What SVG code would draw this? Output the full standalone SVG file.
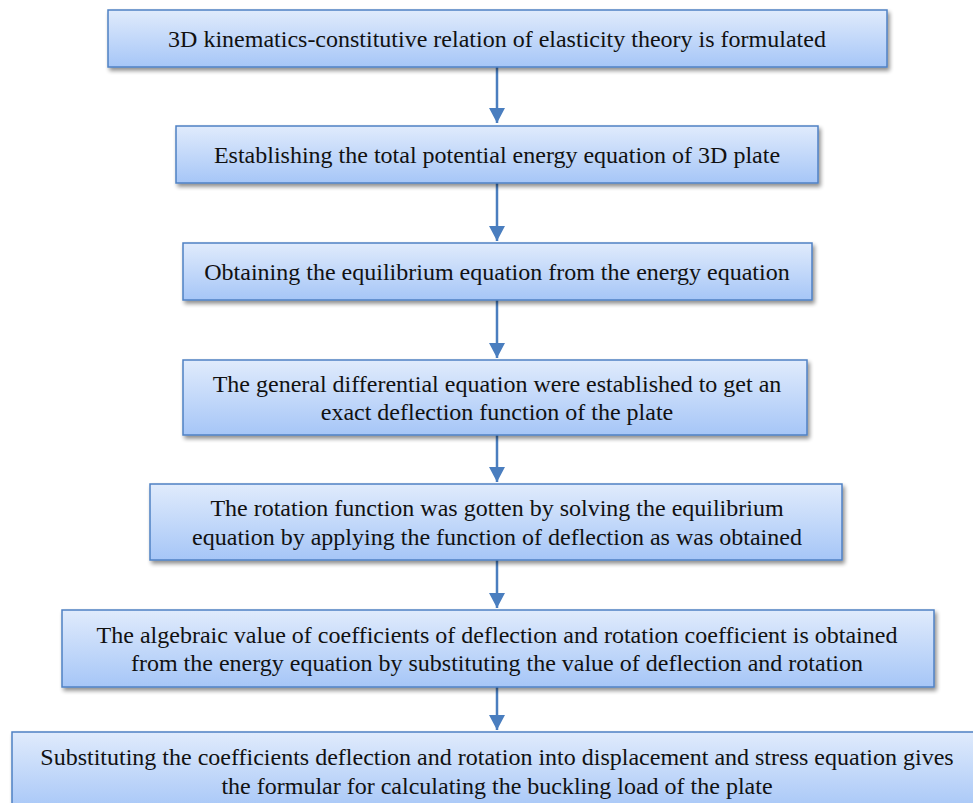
<svg xmlns="http://www.w3.org/2000/svg" width="973" height="803" viewBox="0 0 973 803">
<defs>
<linearGradient id="g" x1="0" y1="0" x2="0" y2="1">
<stop offset="0" stop-color="#e0ebfc"/>
<stop offset="1" stop-color="#a6c6f7"/>
</linearGradient>
<filter id="sh" x="-5%" y="-20%" width="110%" height="150%">
<feGaussianBlur in="SourceAlpha" stdDeviation="2"/>
<feOffset dx="2" dy="3" result="b"/>
<feComponentTransfer><feFuncA type="linear" slope="0.45"/></feComponentTransfer>
<feMerge><feMergeNode/><feMergeNode in="SourceGraphic"/></feMerge>
</filter>
<marker id="ah" markerWidth="15" markerHeight="16" refX="15" refY="8" orient="auto" markerUnits="userSpaceOnUse" viewBox="0 0 15 16">
<path d="M0,0 L15,8 L0,16 Z" fill="#4a7ebf"/>
</marker>
</defs>
<style>
.box{fill:url(#g);stroke:#4f81c4;stroke-width:1.5;filter:url(#sh)}
text{font-family:"Liberation Serif","Times New Roman",serif;font-size:24px;fill:#111;text-anchor:middle}
.c line{stroke:#4a7ebf;stroke-width:2.5}
</style>
<g class="c" id="connectors">
<line x1="497" y1="67" x2="497" y2="123" marker-end="url(#ah)"/>
<line x1="497" y1="183" x2="497" y2="241" marker-end="url(#ah)"/>
<line x1="497" y1="300" x2="497" y2="358" marker-end="url(#ah)"/>
<line x1="497" y1="435" x2="497" y2="482" marker-end="url(#ah)"/>
<line x1="497" y1="560" x2="497" y2="608" marker-end="url(#ah)"/>
<line x1="497" y1="687" x2="497" y2="730" marker-end="url(#ah)"/>
</g>
<g id="n1"><rect class="box" x="108" y="10" width="779" height="57"/><text x="497" y="47">3D kinematics-constitutive relation of elasticity theory is formulated</text></g>
<g id="n2"><rect class="box" x="176" y="126" width="642" height="57"/><text x="497" y="163">Establishing the total potential energy equation of 3D plate</text></g>
<g id="n3"><rect class="box" x="183" y="243" width="629" height="57"/><text x="497" y="280">Obtaining the equilibrium equation from the energy equation</text></g>
<g id="n4"><rect class="box" x="183" y="360" width="624" height="75"/><text x="497" y="392">The general differential equation were established to get an</text><text x="497" y="420">exact deflection function of the plate</text></g>
<g id="n5"><rect class="box" x="150" y="484" width="692" height="76"/><text x="497" y="516">The rotation function was gotten by solving the equilibrium</text><text x="497" y="545">equation by applying the function of deflection as was obtained</text></g>
<g id="n6"><rect class="box" x="62" y="610" width="872" height="77"/><text x="497" y="643">The algebraic value of coefficients of deflection and rotation coefficient is obtained</text><text x="497" y="671">from the energy equation by substituting the value of deflection and rotation</text></g>
<g id="n7"><rect class="box" x="12" y="732" width="970" height="80"/><text x="497" y="765">Substituting the coefficients deflection and rotation into displacement and stress equation gives</text><text x="497" y="794">the formular for calculating the buckling load of the plate</text></g>
</svg>
